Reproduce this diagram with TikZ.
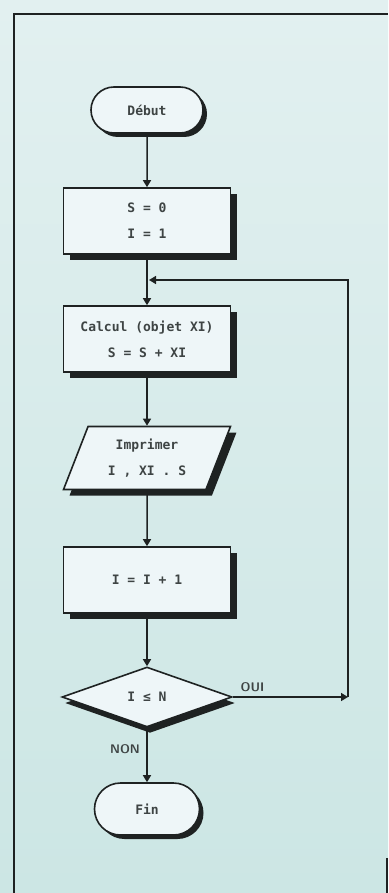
\documentclass[tikz,border=0pt]{standalone}
\usepackage{fontspec}
\setmonofont{DejaVu Sans Mono}
\usetikzlibrary{shapes.geometric,shapes.misc,shadows,arrows.meta}
\definecolor{paperTop}{RGB}{226,240,240}
\definecolor{paperBot}{RGB}{204,230,228}
\definecolor{boxfill}{RGB}{238,246,248}
\definecolor{ink}{RGB}{30,34,34}
\definecolor{txt}{RGB}{62,68,68}
\begin{document}
\begin{tikzpicture}[x=1pt,y=-1pt,
  base/.style={draw=ink, line width=1.6pt, fill=boxfill, inner sep=0pt,
    align=center, text=txt, font=\ttfamily\bfseries\fontsize{13}{26}\selectfont},
  shade5/.style={drop shadow={shadow xshift=6pt, shadow yshift=-6pt, fill=ink, opacity=1}},
  procbox/.style={base, rectangle, minimum width=167pt, minimum height=66pt, shade5},
  termbox/.style={base, rounded rectangle, minimum width=112pt, minimum height=46pt,
    drop shadow={shadow xshift=4pt, shadow yshift=-4pt, fill=ink, opacity=1}},
  iobox/.style={base, trapezium, trapezium left angle=67, trapezium right angle=113,
    trapezium stretches=true, minimum width=167pt, minimum height=63pt, shade5},
  testbox/.style={base, diamond, aspect=2.8, minimum width=170pt, minimum height=60pt,
    drop shadow={shadow xshift=3pt, shadow yshift=-6pt, fill=ink, opacity=1}},
  arr/.style={draw=ink, line width=1.5pt, -{Triangle[length=7pt,width=8pt]}},
  lbl/.style={text=txt, font=\sffamily\bfseries\fontsize{12.5}{13}\selectfont}]

\useasboundingbox (0,0) rectangle (388,893);
\shade[top color=paperTop, bottom color=paperBot] (0,0) rectangle (388,893);

% frame
\draw[ink, line width=2.2pt] (14,893) -- (14,14) -- (388,14);
\draw[ink, line width=1.6pt] (387,858) -- (387,893);

% blocks
\node[termbox] (debut) at (147,110) {Début};
\node[procbox] (init)  at (147,221) {S = 0\\I = 1};
\node[procbox] (calc)  at (147,339) {Calcul (objet XI)\\S = S + XI};
\node[iobox]   (print) at (147,458) {Imprimer\\I , XI . S};
\node[procbox] (inc)   at (147,580) {I = I + 1};
\node[testbox] (test)  at (147,697) {I ≤ N};
\node[termbox, minimum width=105pt, minimum height=52pt] (fin) at (147,809) {Fin};

% loop return path
\coordinate (join) at (147,280);
\coordinate (cb) at (348,697);
\coordinate (ct) at (348,280);

% connectors
\draw[arr] (debut) -- (init);
\draw[arr] (init) -- (calc);
\draw[arr] (calc) -- (print);
\draw[arr] (print) -- (inc);
\draw[arr] (inc) -- (test);
\draw[arr] (test) -- node[lbl, left=3pt, pos=0.4] (non) {NON} (fin);
\draw[arr] (test.east) -- node[lbl, above=1pt, pos=0.17] (oui) {OUI} (cb);
\draw[arr, shorten >=2pt] (cb) -- (ct) -- (join);
\end{tikzpicture}
\end{document}
